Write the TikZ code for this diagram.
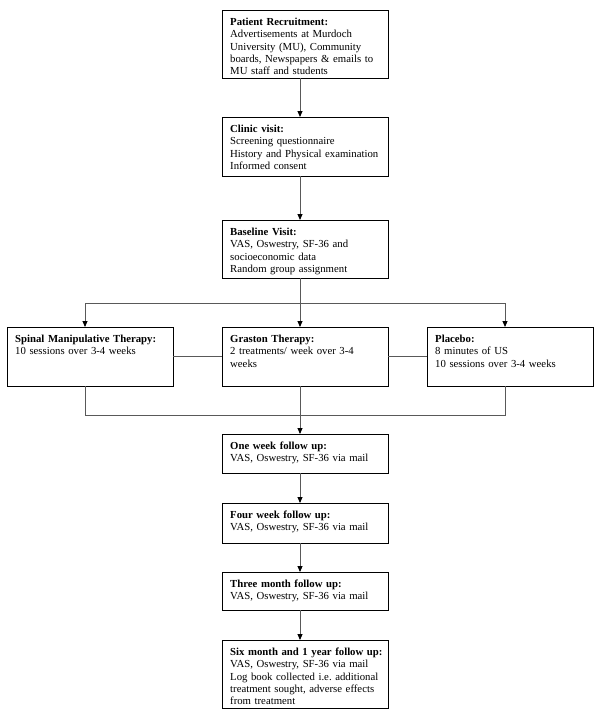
\documentclass[tikz,border=0pt]{standalone}
\usepackage{fontspec}
\setmainfont{Liberation Serif}
\usetikzlibrary{arrows.meta,calc}
\tikzset{
  boxnode/.style={draw=black,line width=0.9pt,inner sep=0pt,outer sep=0pt,anchor=north west},
  txtnode/.style={inner sep=0pt,anchor=north west,align=left,text width=#1,
    font=\fontsize{10.75}{12.2}\selectfont},
  txtnode/.default=180pt,
  conn/.style={draw=black!65,line width=0.9pt},
  arr/.style={conn,-{Triangle[width=5pt,length=6pt,color=black]}},
}
\newcommand{\mkbox}[6]{% name, x1, y1, x2, y2, text
  \node[boxnode,minimum width=#4pt-#2pt,minimum height=#5pt-#3pt] (#1) at (#2,#3) {};
  \node[txtnode] (#1t) at ($(#1.north west)+(8,8)$) {#6};
}
\begin{document}
\begin{tikzpicture}[x=1pt,y=-1pt]
\useasboundingbox[fill=white] (0,0) rectangle (600,716);
\mkbox{rec}{222}{10}{388}{78}{\textbf{Patient Recruitment:}\\Advertisements at Murdoch\\University (MU), Community\\boards, Newspapers \& emails to\\MU staff and students}
\mkbox{clin}{222}{117}{388}{176}{\textbf{Clinic visit:}\\Screening questionnaire\\History and Physical examination\\Informed consent}
\mkbox{base}{222}{220}{388}{278}{\textbf{Baseline Visit:}\\VAS, Oswestry, SF-36 and\\socioeconomic data\\Random group assignment}
\mkbox{smt}{7}{327}{173}{386}{\textbf{Spinal Manipulative Therapy:}\\10 sessions over 3-4 weeks}
\mkbox{gras}{222}{327}{388}{386}{\textbf{Graston Therapy:}\\2 treatments/ week over 3-4\\weeks}
\mkbox{plac}{427}{327}{593}{386}{\textbf{Placebo:}\\8 minutes of US\\10 sessions over 3-4 weeks}
\mkbox{wa}{222}{434}{388}{473}{\textbf{One week follow up:}\\VAS, Oswestry, SF-36 via mail}
\mkbox{wb}{222}{503}{388}{543}{\textbf{Four week follow up:}\\VAS, Oswestry, SF-36 via mail}
\mkbox{mc}{222}{572}{388}{610}{\textbf{Three month follow up:}\\VAS, Oswestry, SF-36 via mail}
\mkbox{md}{222}{640}{388}{708}{\textbf{Six month and 1 year follow up:}\\VAS, Oswestry, SF-36 via mail\\Log book collected i.e.\ additional\\treatment sought, adverse effects\\from treatment}
% guide coordinates
\coordinate (cx) at (300,0);
\coordinate (lx) at (85,0);
\coordinate (rx) at (505,0);
\coordinate (top) at (0,303);
\coordinate (bot) at (0,415);
% main vertical arrows
\draw[arr] (rec.south -| cx) -- (clin.north -| cx);
\draw[arr] (clin.south -| cx) -- (base.north -| cx);
\draw[arr] (base.south -| cx) -- (gras.north -| cx);
% branch
\draw[conn] (top -| lx) -- (top -| rx);
\draw[arr] (top -| lx) -- (smt.north -| lx);
\draw[arr] (top -| rx) -- (plac.north -| rx);
% side links
\draw[conn] (smt.east) -- (gras.west);
\draw[conn] (gras.east) -- (plac.west);
% merge
\draw[conn] (smt.south -| lx) -- (bot -| lx) -- (bot -| rx) -- (plac.south -| rx);
\draw[arr] (gras.south -| cx) -- (wa.north -| cx);
\draw[arr] (wa.south -| cx) -- (wb.north -| cx);
\draw[arr] (wb.south -| cx) -- (mc.north -| cx);
\draw[arr] (mc.south -| cx) -- (md.north -| cx);
\end{tikzpicture}
\end{document}
